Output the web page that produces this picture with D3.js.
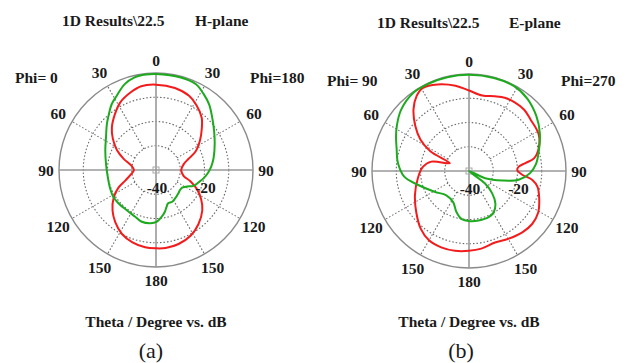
<!DOCTYPE html>
<html>
<head>
<meta charset="utf-8">
<script src="https://cdn.jsdelivr.net/npm/d3@7"></script>
<style>
  html, body { margin: 0; padding: 0; background: #fff; }
  text { font-family: "Times New Roman", "Liberation Serif", serif; fill: #1a1a1a; }
</style>
</head>
<body>
<div class="chart"></div>
<script>
// theta in degrees (clockwise from top), gain in dB
const hRedTheta = [0, 13, 24, 32, 41, 48, 56, 65, 71, 78, 90, 102, 108, 115, 123, 131, 142, 152, 163, 173, 180, 188, 198, 208, 218, 227, 237, 245, 251, 261, 270, 280, 289, 297, 306, 314, 324, 332, 342, 350];
const hRedGain = [-4.8, -5.3, -6.5, -8.5, -11.3, -14.6, -18.1, -22.0, -25.8, -28.3, -29.6, -28.4, -25.1, -21.4, -17.8, -14.7, -11.6, -9.4, -8.1, -7.6, -7.7, -7.8, -8.6, -10.1, -12.7, -15.5, -19.2, -23.0, -26.6, -29.7, -30.9, -29.7, -25.9, -21.9, -18.0, -14.7, -11.3, -8.5, -6.3, -4.9];

const hGreenTheta = [0, 15, 25, 32, 39, 47, 56, 66, 78, 86, 93, 100, 106, 113, 118, 124, 130, 136, 146, 153, 160, 164, 168, 173, 179, 186, 196, 204, 216, 229, 238, 248, 262, 276, 291, 303, 313, 320, 326, 332, 340, 347, 354];
const hGreenGain = [-0.4, -0.5, -1.0, -3.0, -5.2, -8.3, -11.1, -13.5, -15.7, -17.1, -18.5, -20.1, -21.7, -23.2, -25.5, -27.0, -27.1, -26.7, -25.9, -25.3, -25.4, -24.2, -22.4, -20.6, -18.7, -17.9, -17.9, -18.9, -19.5, -19.3, -19.2, -19.6, -19.9, -19.3, -17.6, -15.4, -12.3, -9.8, -7.3, -5.4, -2.3, -0.8, -0.4];

const eRedTheta = [0, 10, 19, 26, 34, 42, 50, 62, 72, 79, 82, 85, 89, 94, 98, 103, 111, 121, 130, 139, 150, 160, 171, 180, 190, 200, 210, 220, 232, 246, 262, 275, 284, 292, 297, 303, 310, 318, 325, 331, 340, 351];
const eRedGain = [-6.8, -8.4, -7.4, -6.4, -6.0, -6.0, -6.9, -7.5, -9.8, -12.7, -16.5, -19.4, -20.1, -18.0, -13.6, -11.0, -9.0, -6.7, -6.0, -6.5, -7.7, -8.6, -7.6, -7.1, -6.6, -6.5, -7.0, -9.0, -12.4, -15.6, -18.7, -20.9, -24.0, -31.5, -22.1, -16.1, -11.1, -5.8, -2.3, -0.8, -2.0, -4.4];

const eGreenTheta = [0, 15, 28, 39, 51, 62, 73, 84, 92, 100, 106, 114, 120, 128, 134, 141, 149, 157, 169, 179, 189, 197, 207, 223, 239, 255, 265, 277, 287, 295, 302, 312, 325, 335, 347];
const eGreenGain = [-0.3, -0.3, -0.4, -1.7, -4.2, -6.9, -9.8, -12.2, -14.8, -19.2, -25.8, -32.7, -40, -31.6, -26.7, -22.7, -20.2, -19.3, -19.2, -19.3, -20.0, -22.3, -25.6, -26.3, -23.4, -18.1, -13.2, -10.4, -8.8, -6.8, -4.9, -2.3, -0.4, -0.3, -0.3];

const ringValues = [-30, -20, -10];
const ringLabels = [-40, -20];
const gridAngles = [0, 30, 60, 90, 120, 150, 180, 210, 240, 270, 300, 330];

const WIDTH = 629;
const HEIGHT = 363;
const R = 97;
const RED = "#f21c1c";
const GREEN = "#1eaa1e";

const panels = [
  {
    cx: 156, cy: 170, plane: "H-plane", left: "Phi= 0", right: "Phi=180", tag: "(a)",
    titleX: 62, planeX: 195, leftX: 15, rightX: 250, phiY: 83, titleY: 26, tagX: 151,
    red: d3.zip(hRedTheta, hRedGain), green: d3.zip(hGreenTheta, hGreenGain),
  },
  {
    cx: 469, cy: 171, plane: "E-plane", left: "Phi= 90", right: "Phi=270", tag: "(b)",
    titleX: 377, planeX: 509, leftX: 327, rightX: 561, phiY: 86, titleY: 28, tagX: 461,
    red: d3.zip(eRedTheta, eRedGain), green: d3.zip(eGreenTheta, eGreenGain),
  },
];

const rScale = d3.scaleLinear().domain([-40, 0]).range([0, R]).clamp(true);
const rad = (deg) => (deg * Math.PI) / 180;

const radialLine = d3
  .lineRadial()
  .angle((d) => rad(d[0]))
  .radius((d) => rScale(d[1]))
  .curve(d3.curveCatmullRomClosed.alpha(0.5));

const svg = d3
  .create("svg")
  .attr("width", WIDTH)
  .attr("height", HEIGHT)
  .style("display", "block");

svg.append("rect").attr("width", WIDTH).attr("height", HEIGHT).attr("fill", "#fff");

for (const p of panels) {
  const g = svg.append("g").attr("transform", `translate(${p.cx},${p.cy})`);

  // dotted rings
  g.append("g")
    .selectAll("circle")
    .data(ringValues)
    .join("circle")
    .attr("r", (d) => rScale(d))
    .attr("fill", "none")
    .attr("stroke", "#666")
    .attr("stroke-width", 1.1)
    .attr("stroke-dasharray", "1.5,2");

  // dotted spokes
  g.append("g")
    .selectAll("line")
    .data(gridAngles.filter((a) => a % 90 !== 0))
    .join("line")
    .attr("x1", (a) => rScale(ringValues[0]) * Math.sin(rad(a)))
    .attr("y1", (a) => -rScale(ringValues[0]) * Math.cos(rad(a)))
    .attr("x2", (a) => R * Math.sin(rad(a)))
    .attr("y2", (a) => -R * Math.cos(rad(a)))
    .attr("stroke", "#666")
    .attr("stroke-width", 1.1)
    .attr("stroke-dasharray", "1.5,2");

  // outer circle
  g.append("circle")
    .attr("r", rScale(0))
    .attr("fill", "none")
    .attr("stroke", "#8a8a8a")
    .attr("stroke-width", 1.4);

  // solid axes
  g.append("g")
    .selectAll("line")
    .data([0, 90])
    .join("line")
    .attr("x1", (a) => -R * Math.sin(rad(a)))
    .attr("y1", (a) => R * Math.cos(rad(a)))
    .attr("x2", (a) => R * Math.sin(rad(a)))
    .attr("y2", (a) => -R * Math.cos(rad(a)))
    .attr("stroke", "#999")
    .attr("stroke-width", 1.6);

  g.append("rect")
    .attr("x", -3).attr("y", -3).attr("width", 6).attr("height", 6)
    .attr("fill", "none")
    .attr("stroke", "#aaa")
    .attr("stroke-width", 1);

  // pattern curves
  g.append("path")
    .attr("d", radialLine(p.red))
    .attr("fill", "none")
    .attr("stroke", RED)
    .attr("stroke-width", 2);

  g.append("path")
    .attr("d", radialLine(p.green))
    .attr("fill", "none")
    .attr("stroke", GREEN)
    .attr("stroke-width", 2);

  // theta labels round the circle
  g.append("g")
    .selectAll("text")
    .data(gridAngles)
    .join("text")
    .attr("x", (a) => (R + 13 + 3.5 * Math.abs(Math.sin(rad(2 * a)))) * Math.sin(rad(a)))
    .attr("y", (a) => -(R + 13 + 3.5 * Math.abs(Math.sin(rad(2 * a)))) * Math.cos(rad(a)))
    .attr("text-anchor", "middle")
    .attr("dominant-baseline", "central")
    .attr("font-size", 15.5)
    .attr("font-weight", "bold")
    .text((a) => (a <= 180 ? a : 360 - a));

  // dB labels
  g.append("g")
    .selectAll("text")
    .data(ringLabels)
    .join("text")
    .attr("x", (d) => rScale(d) + 1)
    .attr("y", 17)
    .attr("text-anchor", "middle")
    .attr("dominant-baseline", "central")
    .attr("font-size", 15.5)
    .attr("font-weight", "bold")
    .text((d) => d);

  // headings
  const heading = (x, y, txt, size, weight, anchor) =>
    svg.append("text")
      .attr("x", x)
      .attr("y", y)
      .attr("font-size", size)
      .attr("font-weight", weight)
      .attr("text-anchor", anchor)
      .style("white-space", "pre")
      .text(txt);

  heading(p.titleX, p.titleY, "1D Results\\22.5", 15.5, "bold", "start");
  heading(p.planeX, p.titleY, p.plane, 15.5, "bold", "start");
  heading(p.leftX, p.phiY, p.left, 15.5, "bold", "start");
  heading(p.rightX, p.phiY, p.right, 15.5, "bold", "start");
  heading(p.cx, 327, "Theta / Degree vs. dB", 15.5, "bold", "middle");
  heading(p.tagX, 358, p.tag, 22, "normal", "middle");
}

document.querySelector(".chart").append(svg.node());
</script>
</body>
</html>
